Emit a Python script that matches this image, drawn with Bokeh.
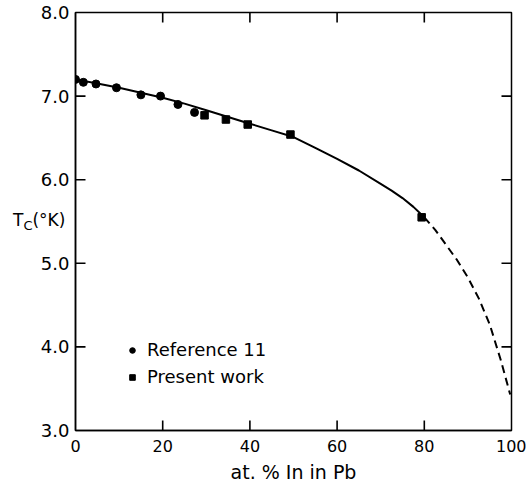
from bokeh.plotting import figure
from bokeh.models import (Range1d, FixedTicker, PrintfTickFormatter,
                          Legend, LegendItem, Div, GridBox, BoxAnnotation)
from bokeh.embed import file_html
from bokeh.resources import INLINE

# Reference 11 (circles)
ref_x = [0.0, 1.8, 4.7, 9.4, 15.0, 19.5, 23.5, 27.3]
ref_y = [7.20, 7.165, 7.145, 7.10, 7.015, 7.00, 6.90, 6.805]
# Present work (squares)
pres_x = [29.6, 34.5, 39.5, 49.3, 79.4]
pres_y = [6.77, 6.72, 6.66, 6.54, 5.55]
# Solid curve
fit_x = [0, 5, 10, 15, 20, 25, 30, 35, 40, 45, 50, 55, 60, 65, 70, 72.5,
         75, 77.5, 80]
fit_y = [7.20, 7.15, 7.10, 7.04, 6.98, 6.91, 6.83, 6.75, 6.67, 6.59, 6.51,
         6.38, 6.25, 6.11, 5.95, 5.87, 5.78, 5.675, 5.55]
# Dashed extrapolation
ext_x = [80, 82.5, 85, 87.5, 90, 92.5, 95, 97.5, 99.7]
ext_y = [5.55, 5.40, 5.22, 5.04, 4.83, 4.58, 4.27, 3.85, 3.43]

x_ticks = [0, 20, 40, 60, 80, 100]
y_ticks = [3.0, 4.0, 5.0, 6.0, 7.0, 8.0]

FONT = "DejaVu Sans"
W, H = 526, 485
BL, BR, BT, BB = 75, 15, 12, 53
TICK_PX = 10
TICK_W_PX = 1.6

p = figure(width=W, height=H, output_backend="svg", toolbar_location=None,
           x_range=Range1d(x_ticks[0], x_ticks[-1]),
           y_range=Range1d(y_ticks[0], y_ticks[-1]),
           min_border_left=BL, min_border_right=BR, min_border_top=BT,
           min_border_bottom=BB)
p.grid.visible = False
p.outline_line_color = "black"
p.outline_line_width = 1.5
p.background_fill_color = "white"
p.border_fill_color = "white"

for ax, ticks in ((p.xaxis[0], x_ticks), (p.yaxis[0], y_ticks)):
    ax.ticker = FixedTicker(ticks=ticks)
    ax.major_tick_in = 0
    ax.major_tick_out = 0
    ax.major_tick_line_color = None
    ax.minor_tick_line_color = None
    ax.axis_line_color = "black"
    ax.axis_line_width = 1.5
    ax.major_label_text_font = FONT
    ax.major_label_text_color = "black"

xa = p.xaxis[0]
xa.major_label_text_font_size = "16px"
xa.major_label_standoff = 9
xa.axis_label = "at. % In in Pb"
xa.axis_label_text_font = FONT
xa.axis_label_text_font_size = "19px"
xa.axis_label_text_font_style = "normal"
xa.axis_label_text_color = "black"
xa.axis_label_standoff = 6

ya = p.yaxis[0]
ya.major_label_text_font_size = "18px"
ya.formatter = PrintfTickFormatter(format="%.1f")
ya.major_label_standoff = 6

p.line(fit_x, fit_y, line_color="black", line_width=2)
p.line(ext_x, ext_y, line_color="black", line_width=2, line_dash="8 5")
r1 = p.scatter(ref_x, ref_y, marker="circle", size=8, fill_color="black",
               line_color="black")
r2 = p.scatter(pres_x, pres_y, marker="square", size=7.5, fill_color="black",
               line_color="black")

# inward tick marks on all four sides as small filled box annotations
fw, fh = W - BL - BR, H - BT - BB
sx = (x_ticks[-1] - x_ticks[0]) / fw   # data units per pixel, x
sy = (y_ticks[-1] - y_ticks[0]) / fh   # data units per pixel, y
box_kw = dict(fill_color="black", fill_alpha=1.0, line_color=None,
              level="overlay")
for t in x_ticks[1:-1]:
    hw = TICK_W_PX / 2 * sx
    p.add_layout(BoxAnnotation(left=t - hw, right=t + hw, bottom=y_ticks[0],
                               top=y_ticks[0] + TICK_PX * sy, **box_kw))
    p.add_layout(BoxAnnotation(left=t - hw, right=t + hw,
                               bottom=y_ticks[-1] - TICK_PX * sy,
                               top=y_ticks[-1], **box_kw))
for t in y_ticks[1:-1]:
    hh = TICK_W_PX / 2 * sy
    p.add_layout(BoxAnnotation(left=x_ticks[0], right=x_ticks[0] + TICK_PX * sx,
                               bottom=t - hh, top=t + hh, **box_kw))
    p.add_layout(BoxAnnotation(left=x_ticks[-1] - TICK_PX * sx,
                               right=x_ticks[-1], bottom=t - hh, top=t + hh,
                               **box_kw))

legend = Legend(items=[LegendItem(label="Reference 11", renderers=[r1]),
                       LegendItem(label="Present work", renderers=[r2])],
                location=(50, 43), padding=0, margin=0, spacing=6,
                glyph_width=14, glyph_height=20, label_height=20,
                label_standoff=8, border_line_color=None,
                background_fill_alpha=0, label_text_font=FONT,
                label_text_font_size="18px", label_text_color="black")
p.add_layout(legend, "center")

# y-axis title T_C(°K), horizontal, overlaid in the left margin
ylab = Div(text='T<sub style="font-size:13px">C</sub>(°K)',
           width=64, height=26, margin=(210, 0, 0, 13), align="start",
           styles={"font-family": FONT, "font-size": "17px", "color": "black",
                   "white-space": "nowrap", "line-height": "20px"})

layout = GridBox(children=[(p, 0, 0), (ylab, 0, 0)])

open("out.html", "w").write(file_html(layout, INLINE))
